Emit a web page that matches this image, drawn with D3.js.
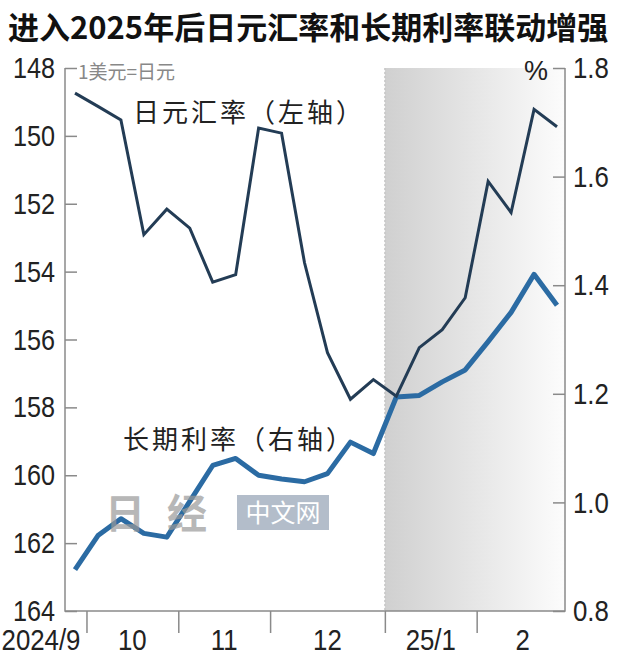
<!DOCTYPE html>
<html>
<head>
<meta charset="utf-8">
<script src="https://cdn.jsdelivr.net/npm/d3@7"></script>
<style>
  body { margin: 0; background: #fff; }
  svg { display: block; }
  .num { font-family: "Liberation Sans Narrow", "Arial Narrow", "Liberation Sans", sans-serif; font-size: 30px; fill: #222; }
  .cjk { font-family: "Noto Sans CJK SC", sans-serif; font-feature-settings: "chws" 0, "halt" 0; }
</style>
</head>
<body>
<svg id="chart"></svg>
<script>
// Weekly data, Sep 2024 - Feb 2025
const monthLabels = ["2024/9", "10", "11", "12", "25/1", "2"];
const monthWeeks = [1, 4, 4, 5, 4, 4];

// yen per dollar (left axis, inverted)
const yenRate = [148.74, 149.13, 149.53, 152.91, 152.16, 152.72, 154.31, 154.09, 149.77, 149.92, 153.74,
                 156.39, 157.76, 157.18, 157.67, 156.24, 155.71, 154.77, 151.34, 152.26, 149.22, 149.73];
// long term rate in % (right axis)
const longRate = [0.876, 0.939, 0.970, 0.943, 0.936, 1.002, 1.068, 1.081, 1.050, 1.043, 1.038,
                  1.053, 1.111, 1.090, 1.194, 1.197, 1.222, 1.244, 1.296, 1.350, 1.420, 1.363];

const leftTicks = [148, 150, 152, 154, 156, 158, 160, 162, 164];
const rightTicks = [0.8, 1.0, 1.2, 1.4, 1.6, 1.8];

const width = 620;
const height = 664;
const plotLeft = 65, plotRight = 565, plotTop = 68, plotBottom = 611;

const svg = d3.select("#chart")
    .attr("width", width)
    .attr("height", height);

const x = d3.scaleLinear()
    .domain([0, yenRate.length - 1])
    .range([75, 557]);

const yL = d3.scaleLinear().domain([148, 164]).range([plotTop, plotBottom]);
const yR = d3.scaleLinear().domain([0.8, 1.8]).range([plotBottom, plotTop]);

// squeeze numbers to look like a condensed face
function condense(sel, k) {
    sel.each(function() {
        const w = this.getComputedTextLength();
        d3.select(this)
            .attr("textLength", w * k)
            .attr("lengthAdjust", "spacingAndGlyphs");
    });
}

// spread a label out to a given width
function spreadTo(sel, target) {
    const node = sel.node();
    const n = sel.text().length;
    const w = node.getComputedTextLength();
    sel.style("letter-spacing", ((target - w) / n) + "px");
}

// month boundaries
const bounds = [];
let acc = 0;
monthWeeks.forEach(n => { acc += n; bounds.push(acc - 0.5); });
bounds.pop();

// Shaded 2025 area
const defs = svg.append("defs");
const grad = defs.append("linearGradient")
    .attr("id", "shade")
    .attr("x1", "0%").attr("x2", "100%");
grad.append("stop").attr("offset", "0%").attr("stop-color", "#d0d0d0");
grad.append("stop").attr("offset", "100%").attr("stop-color", "#fcfcfc");

const shadeX = x(bounds[3]);
svg.append("rect")
    .attr("x", shadeX)
    .attr("y", plotTop)
    .attr("width", plotRight - shadeX)
    .attr("height", plotBottom - plotTop)
    .attr("fill", "url(#shade)");

svg.append("line")
    .attr("x1", shadeX).attr("x2", shadeX)
    .attr("y1", plotTop).attr("y2", plotBottom)
    .attr("stroke", "#bbb")
    .attr("stroke-width", 1)
    .attr("stroke-dasharray", "2,2");

// Title
svg.append("text")
    .attr("class", "cjk")
    .attr("x", 8)
    .attr("y", 39)
    .style("font-weight", "bold")
    .style("font-size", "31px")
    .style("fill", "#111")
    .text("进入2025年后日元汇率和长期利率联动增强");

// Axes
const axisColor = "#8a8a8a";

const leftAxis = svg.append("g")
    .attr("transform", `translate(${plotLeft},0)`)
    .call(d3.axisLeft(yL).tickValues(leftTicks).tickSize(-12).tickPadding(10).tickFormat(d3.format("d")));

const rightAxis = svg.append("g")
    .attr("transform", `translate(${plotRight},0)`)
    .call(d3.axisRight(yR).tickValues(rightTicks).tickSize(-12).tickPadding(8).tickFormat(d3.format(".1f")));

const bottomAxis = svg.append("g")
    .attr("transform", `translate(0,${plotBottom})`)
    .call(d3.axisBottom(x).tickValues(bounds).tickSize(22).tickFormat(""));

[leftAxis, rightAxis, bottomAxis].forEach(g => {
    g.attr("font-family", null).attr("font-size", null);
    g.select(".domain").remove();
    g.selectAll(".tick line").attr("stroke", axisColor).attr("stroke-width", 1.5);
    g.selectAll(".tick text").attr("class", "num").attr("fill", null);
});
condense(leftAxis.selectAll(".tick text"), 0.84);
condense(rightAxis.selectAll(".tick text"), 0.86);

// frame
svg.append("path")
    .attr("d", `M${plotLeft},${plotTop}V${plotBottom}H${plotRight}V${plotTop}`)
    .attr("fill", "none")
    .attr("stroke", axisColor)
    .attr("stroke-width", 1.5);

// month labels
let start = -0.5;
monthWeeks.forEach((n, i) => {
    const end = start + n;
    const t = svg.append("text")
        .attr("class", "num")
        .attr("y", 650)
        .text(monthLabels[i]);
    if (i === 0) {
        t.attr("x", x(end) - 6).attr("text-anchor", "end");
    } else {
        t.attr("x", (x(start) + x(end)) / 2).attr("text-anchor", "middle");
    }
    condense(t, 0.86);
    start = end;
});

// unit labels
svg.append("text")
    .attr("class", "cjk")
    .attr("x", 78)
    .attr("y", 79)
    .style("font-size", "19px")
    .style("fill", "#888")
    .text("1美元=日元");

svg.append("text")
    .attr("x", 548)
    .attr("y", 80)
    .attr("text-anchor", "end")
    .attr("class", "num")
    .style("font-size", "27px")
    .text("%");

// lines
const lineYen = d3.line()
    .x((d, i) => x(i))
    .y(d => yL(d));

const lineRate = d3.line()
    .x((d, i) => x(i))
    .y(d => yR(d));

svg.append("path")
    .datum(longRate)
    .attr("d", lineRate)
    .attr("fill", "none")
    .attr("stroke", "#2b6ba3")
    .attr("stroke-width", 5)
    .attr("stroke-linejoin", "round");

svg.append("path")
    .datum(yenRate)
    .attr("d", lineYen)
    .attr("fill", "none")
    .attr("stroke", "#233c55")
    .attr("stroke-width", 3)
    .attr("stroke-linejoin", "miter");

// series labels
const yenLabel = svg.append("text")
    .attr("class", "cjk")
    .attr("x", 133)
    .attr("y", 122)
    .style("font-size", "26px")
    .style("fill", "#222")
    .text("日元汇率（左轴）");
spreadTo(yenLabel, 232);

const rateLabel = svg.append("text")
    .attr("class", "cjk")
    .attr("x", 123)
    .attr("y", 449)
    .style("font-size", "26px")
    .style("fill", "#222")
    .text("长期利率（右轴）");
spreadTo(rateLabel, 232);

// watermark
const wm = svg.append("g").style("opacity", 0.7);
wm.append("text")
    .attr("class", "cjk")
    .attr("x", 105)
    .attr("y", 528)
    .style("font-weight", "bold")
    .style("font-size", "40px")
    .style("fill", "#999")
    .style("letter-spacing", "22px")
    .text("日经");
wm.append("rect")
    .attr("x", 237)
    .attr("y", 495)
    .attr("width", 92)
    .attr("height", 35)
    .attr("fill", "#93a2b4");
wm.append("text")
    .attr("class", "cjk")
    .attr("x", 283)
    .attr("y", 522)
    .attr("text-anchor", "middle")
    .style("font-size", "25px")
    .style("fill", "#fff")
    .text("中文网");
</script>
</body>
</html>
